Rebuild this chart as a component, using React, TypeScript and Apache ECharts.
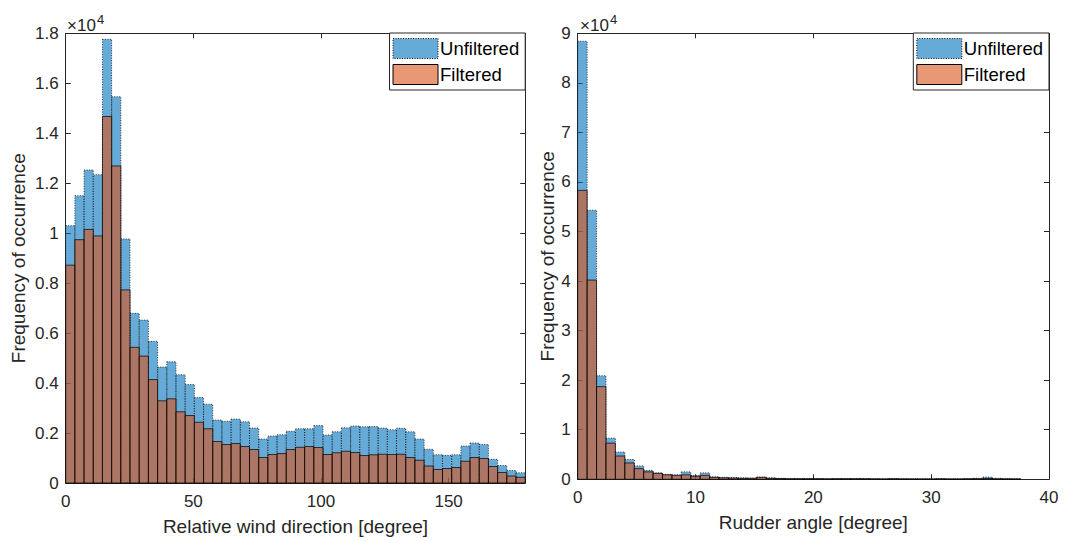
import React, { useEffect, useRef } from "react";
import * as echarts from "echarts";

// ---------- data ----------
const windBinWidth = 3.6; // degrees per bin (0..180, 50 bins)
const rudderBinWidth = 0.8; // degrees per bin (0..40, 50 bins)

const windUnfiltered = [
  10300, 11500, 12530, 12340, 17760, 15460, 9770, 6790, 6520, 5670,
  4640, 4850, 4330, 3940, 3420, 3150, 2520, 2470, 2560, 2450,
  2200, 1760, 1880, 1930, 2070, 2170, 2170, 2300, 1920, 2050,
  2210, 2280, 2250, 2260, 2200, 2130, 2190, 2050, 1760, 1350,
  1130, 1110, 1130, 1480, 1600, 1540, 950, 700, 500, 410,
];
const windFiltered = [
  8720, 9740, 10150, 9890, 14670, 12690, 7730, 5430, 5080, 4140,
  3290, 3370, 2850, 2700, 2430, 2170, 1660, 1540, 1580, 1460,
  1340, 1020, 1140, 1180, 1340, 1430, 1460, 1420, 1140, 1210,
  1270, 1220, 1100, 1130, 1150, 1140, 1150, 1020, 910, 680,
  540, 580, 620, 870, 1020, 980, 660, 420, 280, 230,
];
const rudderUnfiltered = [
  88400, 54300, 20900, 8300, 5500, 4000, 2700, 1800, 1300, 1000,
  900, 1500, 800, 1300, 500, 400, 350, 300, 250, 450,
  300, 200, 150, 150, 150, 150, 100, 150, 150, 150,
  150, 100, 100, 150, 100, 100, 100, 100, 150, 100,
  100, 150, 200, 450, 200, 150, 150, 0, 0, 0,
];
const rudderFiltered = [
  58300, 40200, 18700, 7300, 4700, 3300, 2150, 1500, 1200, 900,
  800, 900, 600, 800, 400, 300, 250, 200, 200, 400,
  200, 150, 100, 100, 100, 100, 80, 100, 100, 100,
  100, 80, 60, 100, 80, 60, 60, 60, 80, 60,
  60, 80, 100, 150, 80, 60, 40, 0, 0, 0,
];

const seriesNames = ["Unfiltered", "Filtered"];
const axisTitles = {
  y: "Frequency of occurrence",
  windX: "Relative wind direction [degree]",
  rudderX: "Rudder angle [degree]",
};

// ---------- styling ----------
const FONT = "'Liberation Sans', Arial, Helvetica, sans-serif";
const AX = "#262626";
const BLUE = "rgba(0,114,189,0.6)";
const ORANGE = "rgba(217,83,25,0.6)";

const binData = (values: number[], w: number) =>
  values.map((v, i) => [i * w, (i + 1) * w, v]);

const makeRender = (style: any) => (params: any, api: any) => {
  const x0 = api.value(0);
  const x1 = api.value(1);
  const y = api.value(2);
  if (!y) return null;
  const p0 = api.coord([x0, y]);
  const p1 = api.coord([x1, 0]);
  return {
    type: "rect",
    shape: { x: p0[0], y: p0[1], width: p1[0] - p0[0], height: p1[1] - p0[1] },
    style,
  };
};

const blueStyle = { fill: BLUE, stroke: "#111", lineWidth: 0.8, lineDash: [1, 1.5] };
const orangeStyle = { fill: ORANGE, stroke: "#000", lineWidth: 0.7 };

const tickFmt = (v: number) => String(+(v / 1e4).toFixed(1));

function xAxisPair(gridIndex: number, max: number, interval: number, name: string, hideMax: boolean) {
  const base = {
    type: "value",
    gridIndex,
    min: 0,
    max,
    interval,
    splitLine: { show: false },
    axisLine: { show: true, onZero: false, lineStyle: { color: AX, width: 1 } },
    axisTick: { show: true, inside: true, length: 5, lineStyle: { color: AX } },
  };
  return [
    {
      ...base,
      position: "bottom",
      name,
      nameLocation: "middle",
      nameGap: 34,
      nameTextStyle: { fontSize: 19, color: AX, fontFamily: FONT },
      axisLabel: {
        show: true,
        margin: 10,
        fontSize: 17,
        color: AX,
        fontFamily: FONT,
        showMaxLabel: !hideMax,
        formatter: (v: number) => (hideMax && v === max ? "" : String(v)),
      },
    },
    { ...base, position: "top", axisLabel: { show: false } },
  ];
}

function yAxisPair(gridIndex: number, max: number, interval: number, nameGap: number) {
  const base = {
    type: "value",
    gridIndex,
    min: 0,
    max,
    interval,
    splitLine: { show: false },
    axisLine: { show: true, onZero: false, lineStyle: { color: AX, width: 1 } },
    axisTick: { show: true, inside: true, length: 5, lineStyle: { color: AX } },
  };
  return [
    {
      ...base,
      position: "left",
      name: axisTitles.y,
      nameLocation: "middle",
      nameGap,
      nameTextStyle: { fontSize: 19, color: AX, fontFamily: FONT },
      axisLabel: { show: true, margin: 7, fontSize: 17, color: AX, fontFamily: FONT, formatter: tickFmt },
    },
    { ...base, position: "right", axisLabel: { show: false } },
  ];
}

function legendAt(right: number) {
  return {
    orient: "vertical",
    right,
    top: 33,
    icon: "rect",
    itemWidth: 45,
    itemHeight: 20,
    itemGap: 5,
    padding: [5, 6, 5, 3],
    borderColor: AX,
    borderWidth: 1,
    backgroundColor: "#fff",
    selectedMode: false,
    textStyle: { fontSize: 18.5, color: "#000", fontFamily: FONT, padding: [0, 0, 0, -3] },
    data: [
      {
        name: seriesNames[0],
        itemStyle: { color: BLUE, borderColor: "#111", borderWidth: 1, borderType: [1, 1.5] },
      },
      {
        name: seriesNames[1],
        itemStyle: { color: ORANGE, borderColor: "#000", borderWidth: 1, borderType: "solid" },
      },
    ],
  };
}

function exponentLabels(x: number) {
  return [
    { type: "text", x, y: 25, style: { text: "×10", fontSize: 17, fill: AX, fontFamily: FONT, verticalAlign: "middle" } },
    { type: "text", x: x + 30, y: 19, style: { text: "4", fontSize: 13, fill: AX, fontFamily: FONT, verticalAlign: "middle" } },
  ];
}

export default function App() {
  const ref = useRef<HTMLDivElement>(null);
  useEffect(() => {
    if (!ref.current) return;
    const chart = echarts.init(ref.current, undefined, { renderer: "svg" });
    const option: any = {
      animation: false,
      backgroundColor: "#fff",
      grid: [
        { left: 65.7, top: 33.3, width: 459.5, height: 453 },
        { left: 577.7, top: 33.3, width: 471.3, height: 446 },
      ],
      xAxis: [
        ...xAxisPair(0, 180, 50, axisTitles.windX, true),
        ...xAxisPair(1, 40, 10, axisTitles.rudderX, false),
      ],
      yAxis: [...yAxisPair(0, 18000, 2000, 38), ...yAxisPair(1, 90000, 10000, 20)],
      legend: [legendAt(1066 - 525.2), legendAt(1066 - 1049)],
      graphic: [...exponentLabels(67), ...exponentLabels(580)],
      series: [
        {
          type: "custom",
          name: seriesNames[0],
          xAxisIndex: 0,
          yAxisIndex: 0,
          encode: { x: [0, 1], y: 2 },
          data: binData(windUnfiltered, windBinWidth),
          renderItem: makeRender(blueStyle),
          itemStyle: { color: BLUE },
        },
        {
          type: "custom",
          name: seriesNames[1],
          xAxisIndex: 0,
          yAxisIndex: 0,
          encode: { x: [0, 1], y: 2 },
          data: binData(windFiltered, windBinWidth),
          renderItem: makeRender(orangeStyle),
          itemStyle: { color: ORANGE },
        },
        {
          type: "custom",
          name: seriesNames[0],
          xAxisIndex: 2,
          yAxisIndex: 2,
          encode: { x: [0, 1], y: 2 },
          data: binData(rudderUnfiltered, rudderBinWidth),
          renderItem: makeRender(blueStyle),
          itemStyle: { color: BLUE },
        },
        {
          type: "custom",
          name: seriesNames[1],
          xAxisIndex: 2,
          yAxisIndex: 2,
          encode: { x: [0, 1], y: 2 },
          data: binData(rudderFiltered, rudderBinWidth),
          renderItem: makeRender(orangeStyle),
          itemStyle: { color: ORANGE },
        },
      ],
    };
    chart.setOption(option);
    return () => chart.dispose();
  }, []);
  return (
    <div
      ref={ref}
      style={{ position: "fixed", left: 0, top: 0, width: 1066, height: 541, background: "#fff" }}
    />
  );
}
